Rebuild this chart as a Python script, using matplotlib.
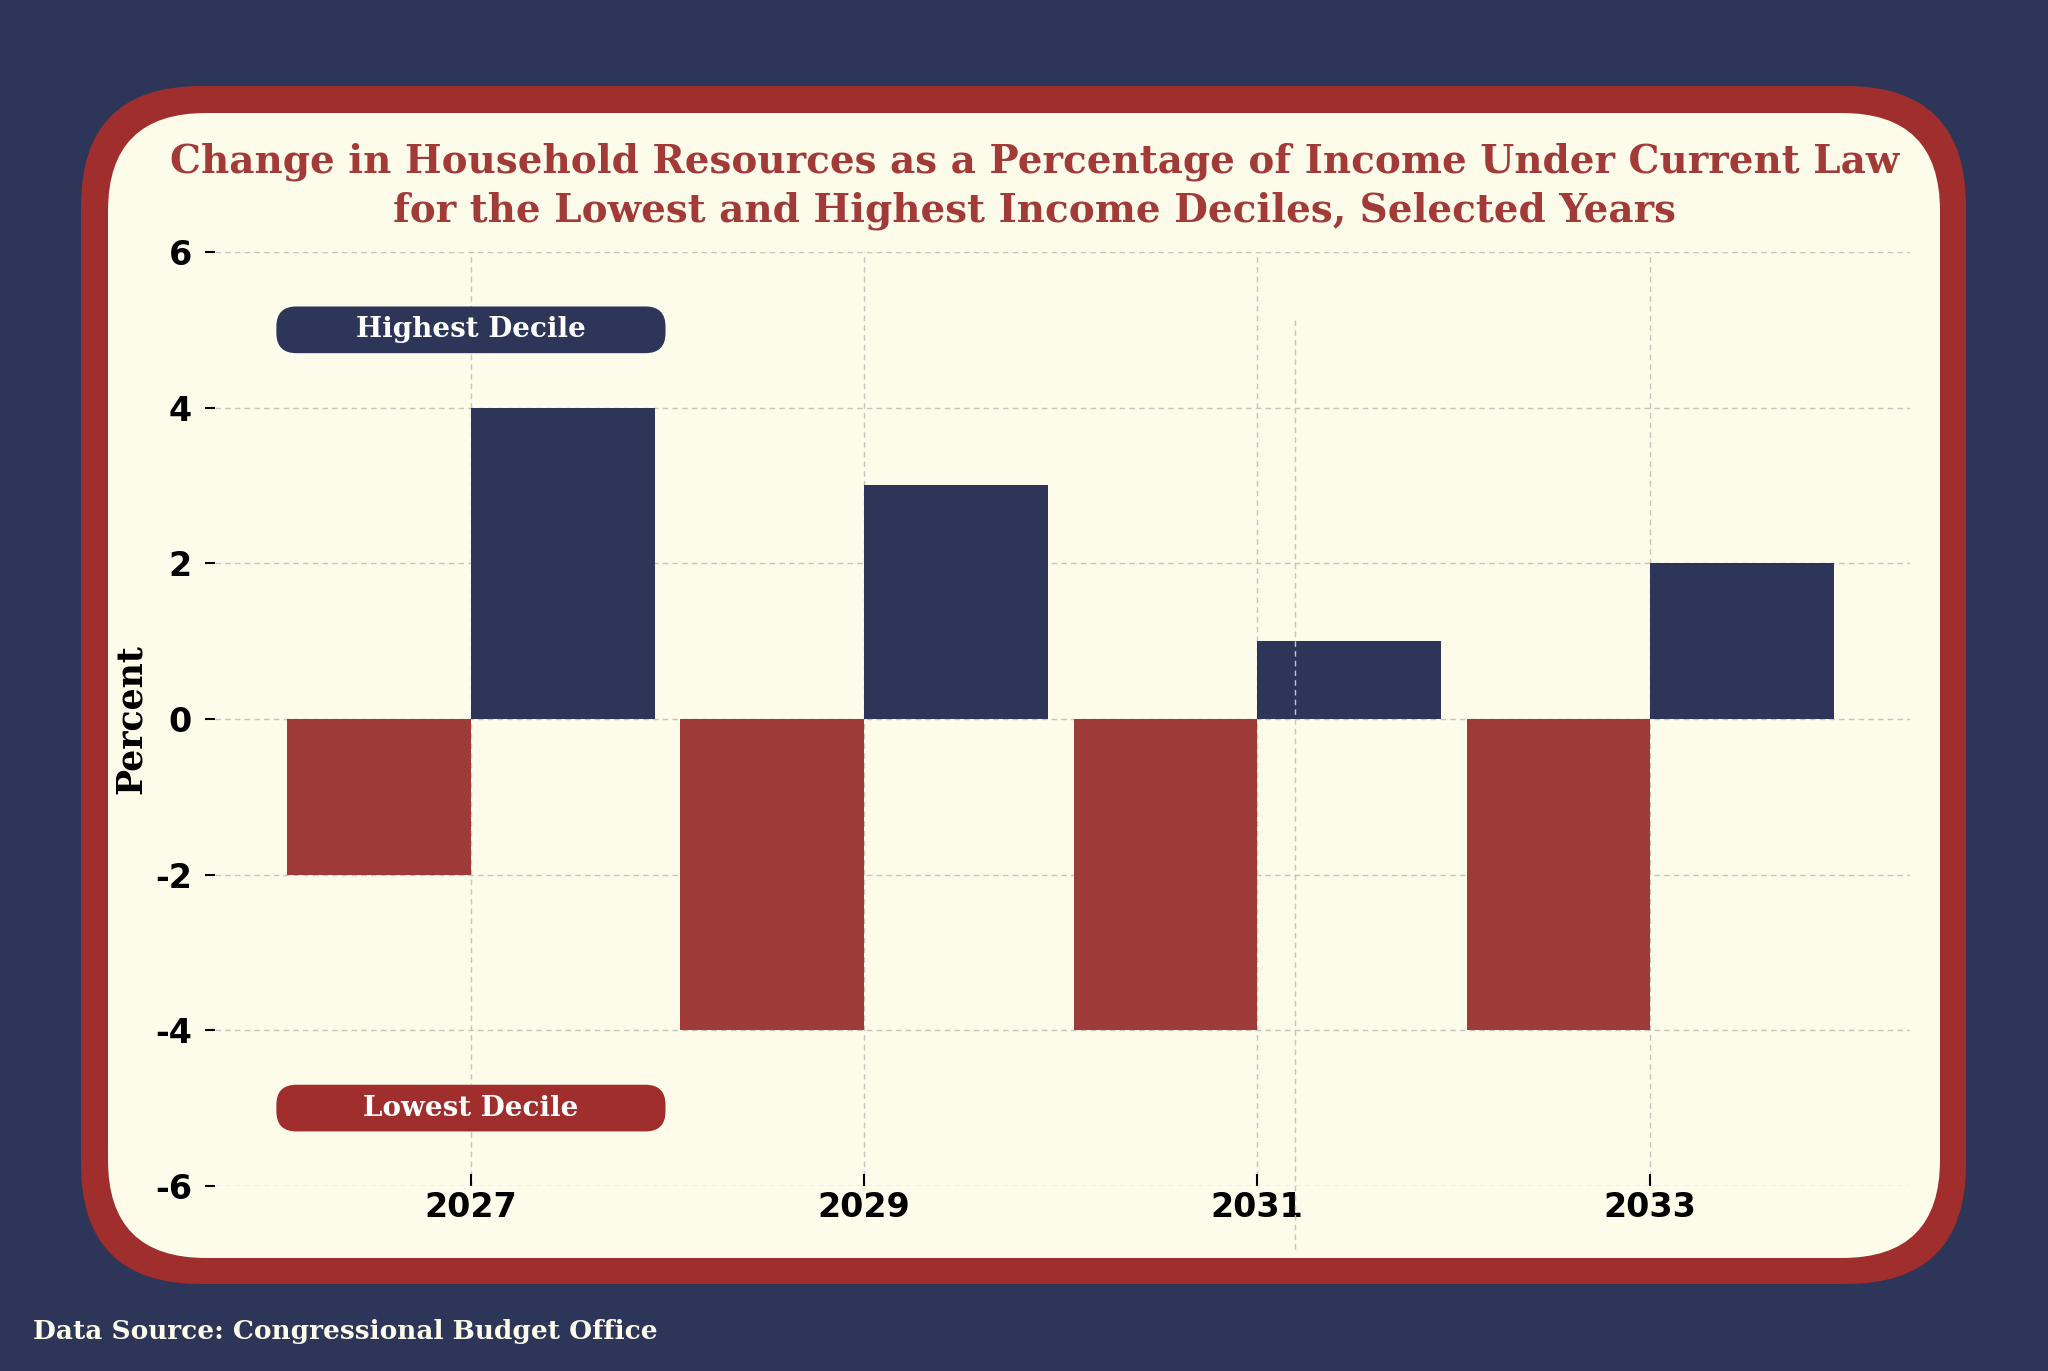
import matplotlib
matplotlib.use("Agg")
import matplotlib.pyplot as plt
from matplotlib.patches import FancyBboxPatch
from matplotlib.lines import Line2D
from matplotlib.transforms import IdentityTransform
import numpy as np

# ---- data ----
years = ["2027", "2029", "2031", "2033"]
highest_decile = [4, 3, 1, 2]
lowest_decile = [-2, -4, -4, -4]
y_ticks = [-6, -4, -2, 0, 2, 4, 6]
title = ("Change in Household Resources as a Percentage of Income Under Current Law\n"
         "for the Lowest and Highest Income Deciles, Selected Years")
source = "Data Source: Congressional Budget Office"

# ---- style ----
NAVY = "#2D3658"
BORDER_RED = "#A02E2C"
BAR_RED = "#9E3B39"
CREAM = "#FDFBEA"
TITLE_RED = "#A23B38"
GRID = "#C6C6C0"
SERIF = ["DejaVu Serif Condensed", "DejaVu Serif"]
SANS = ["DejaVu Sans"]

W, H = 2048, 1371
fig = plt.figure(figsize=(W / 100, H / 100), dpi=100, facecolor=NAVY)

# background frame (pixel coordinates)
bg = fig.add_axes([0, 0, 1, 1], zorder=0)
bg.set_xlim(0, W)
bg.set_ylim(H, 0)
bg.axis("off")
bg.add_patch(FancyBboxPatch((81, 86), 1966 - 81, 1284 - 86,
                            boxstyle="round,pad=0,rounding_size=120",
                            fc=BORDER_RED, ec="none"))
bg.add_patch(FancyBboxPatch((108, 113), 1940 - 108, 1258 - 113,
                            boxstyle="round,pad=0,rounding_size=98",
                            fc=CREAM, ec="none"))

# chart axes
ax = fig.add_axes([0.1052, 0.135, 0.8272, 0.6812], zorder=2)
ax.set_facecolor("none")
x = np.arange(len(years))
w = 0.467
ax.bar(x - w / 2, lowest_decile, w, color=BAR_RED, zorder=2)
ax.bar(x + w / 2, highest_decile, w, color=NAVY, zorder=2)

ax.set_xlim(-0.65, 3.66)
ax.set_ylim(-6, 6)
ax.set_xticks(x)
ax.set_xticklabels(years)
ax.set_yticks(y_ticks)
ax.set_yticklabels([str(v) for v in y_ticks])
for s in ax.spines.values():
    s.set_visible(False)
ax.grid(True, ls=(0, (4, 3)), color=GRID, lw=1.0, zorder=0)
ax.set_axisbelow(True)
ax.tick_params(axis="x", direction="in", length=9, width=1.5, pad=4,
               labelsize=24, colors="black")
ax.tick_params(axis="y", direction="out", length=7, width=1.5, pad=10,
               labelsize=24, colors="black")
for lab in ax.get_xticklabels() + ax.get_yticklabels():
    lab.set_fontweight("bold")
    lab.set_family(SANS)
ax.set_ylabel("Percent", fontsize=25, fontweight="bold", family=SERIF,
              labelpad=5, color="black")

# labels in rounded pill boxes, sized from data coordinates, drawn above the grid
fig.canvas.draw()
def pill(xc, yc, text, color):
    (x0, y0) = ax.transData.transform((xc - 0.495, yc - 0.3))
    (x1, y1) = ax.transData.transform((xc + 0.495, yc + 0.3))
    patch = FancyBboxPatch((x0, y0), x1 - x0, y1 - y0,
                           boxstyle="round,pad=0,rounding_size=20",
                           fc=color, ec="none", transform=IdentityTransform(),
                           zorder=4)
    fig.add_artist(patch)
    (tx, ty) = ax.transData.transform((xc, yc))
    fig.text(tx / W, ty / H, text, ha="center", va="center", fontsize=20,
             fontweight="bold", family=SERIF, color="white", zorder=5)

pill(0, 5, "Highest Decile", NAVY)
pill(0, -5, "Lowest Decile", BORDER_RED)

# stray dashed vertical line over the chart
fig.add_artist(Line2D([1295 / W, 1295 / W], [1 - 320 / H, 1 - 1251 / H],
                      transform=fig.transFigure, ls=(0, (4, 3)), color=GRID,
                      lw=1.0, zorder=3))

# title
fig.text(0.505, 1 - 186 / H, title, ha="center", va="center", fontsize=28,
         fontweight="bold", family=SERIF, color=TITLE_RED, linespacing=1.35)

# source
fig.text(33 / W, 1 - 1332 / H, source, ha="left", va="center", fontsize=19,
         fontweight="bold", family=SERIF, color="#FDFBEA")

fig.savefig("out.png", dpi=100, facecolor=NAVY)
